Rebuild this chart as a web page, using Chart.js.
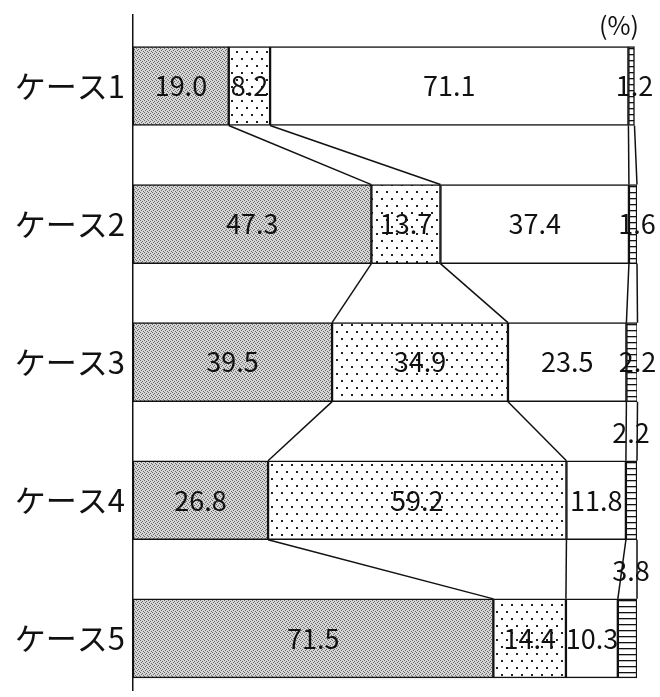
<!DOCTYPE html>
<html lang="ja">
<head>
<meta charset="utf-8">
<title>ケース別構成比</title>
<script src="https://cdn.jsdelivr.net/npm/chart.js@4.4.1/dist/chart.umd.min.js"></script>
<style>
  html, body { margin: 0; padding: 0; background: #fff; }
  #wrap { width: 660px; height: 697px; }
</style>
</head>
<body>
<div id="wrap"><canvas id="chart-cases" width="660" height="697"></canvas></div>
<script>
/* ═══════════════════════════════════════════
   ケース別 構成比 (%)
   ═══════════════════════════════════════════ */

var cases = ['ケース1', 'ケース2', 'ケース3', 'ケース4', 'ケース5'];
var seg1 = [19.0, 47.3, 39.5, 26.8, 71.5];
var seg2 = [8.2, 13.7, 34.9, 59.2, 14.4];
var seg3 = [71.1, 37.4, 23.5, 11.8, 10.3];
var seg4 = [1.2, 1.6, 2.2, 2.2, 3.8];
var unitLabel = '(%)';

var FONT = "'Noto Sans CJK JP', 'Noto Sans', sans-serif";

// Patterns
function makePattern(w, h, draw) {
  var c = document.createElement('canvas');
  c.width = w; c.height = h;
  var g = c.getContext('2d');
  g.fillStyle = '#fff';
  g.fillRect(0, 0, w, h);
  draw(g);
  return g.createPattern(c, 'repeat');
}

var ctx = document.getElementById('chart-cases').getContext('2d');

var grayFill = makePattern(4, 4, function (g) {
  g.fillStyle = '#d6d6d6';
  g.fillRect(0, 0, 4, 4);
  g.fillStyle = '#6a6a6a';
  g.fillRect(0, 0, 1, 1);
  g.fillRect(2, 1, 1, 1);
  g.fillRect(1, 2, 1, 1);
  g.fillRect(3, 3, 1, 1);
});

var dotFill = makePattern(10, 14, function (g) {
  g.fillStyle = '#222';
  g.fillRect(1, 2, 2, 2);
  g.fillRect(6, 9, 2, 2);
});

var hatchFill = makePattern(4, 6, function (g) {
  g.fillStyle = '#111';
  g.fillRect(0, 0, 4, 1.3);
});

function toPoints(values) {
  return values.map(function (v, i) { return { x: v, y: i + 1 }; });
}

function makeDataset(values, fill) {
  return {
    data: toPoints(values),
    backgroundColor: fill,
    borderColor: '#111',
    borderWidth: 1.5,
    borderSkipped: false,
    barThickness: 79
  };
}

// Connecting lines + value labels
var overlayPlugin = {
  id: 'overlay',
  afterDatasetsDraw: function (chart) {
    var c = chart.ctx;
    var metas = chart.data.datasets.map(function (d, j) { return chart.getDatasetMeta(j); });

    // Lines between bars at each boundary
    c.save();
    c.strokeStyle = '#111';
    c.lineWidth = 1.5;
    for (var i = 0; i < cases.length - 1; i++) {
      metas.forEach(function (meta) {
        var a = meta.data[i], b = meta.data[i + 1];
        c.beginPath();
        c.moveTo(a.x, a.y + a.height / 2);
        c.lineTo(b.x, b.y - b.height / 2);
        c.stroke();
      });
    }
    c.restore();

    // Labels
    c.save();
    c.fillStyle = '#111';
    c.font = '27px ' + FONT;
    c.textAlign = 'center';
    c.textBaseline = 'middle';
    chart.data.datasets.forEach(function (ds, j) {
      metas[j].data.forEach(function (el, i) {
        var v = ds.data[i].x;
        var txt = v.toFixed(1);
        var x = (el.x + el.base) / 2;
        var y = el.y;
        if (j === 3) {
          // thin segment: label at bar end, or above the bar if neighbour is narrow
          if (seg3[i] < 15) {
            x = el.x - 6;
            y = el.y - el.height / 2 - 28;
          } else {
            x = el.x;
          }
        }
        c.fillText(txt, x, y);
      });
    });

    // Unit
    c.font = '25px ' + FONT;
    c.fillText(unitLabel, 619, 25);
    c.restore();
  }
};

new Chart(ctx, {
  type: 'bar',
  data: {
    datasets: [
      makeDataset(seg1, grayFill),
      makeDataset(seg2, dotFill),
      makeDataset(seg3, '#ffffff'),
      makeDataset(seg4, hatchFill)
    ]
  },
  options: {
    indexAxis: 'y',
    responsive: false,
    animation: false,
    layout: { padding: { top: 15, right: 23, bottom: 7, left: 0 } },
    plugins: {
      legend: { display: false },
      tooltip: { enabled: false }
    },
    scales: {
      x: {
        type: 'linear',
        stacked: true,
        min: 0,
        max: 100,
        display: false
      },
      y: {
        type: 'linear',
        stacked: true,
        reverse: true,
        offset: false,
        min: 0.486,
        max: 5.374,
        grid: { display: false, drawTicks: false },
        border: { display: true, color: '#111', width: 1.5 },
        afterBuildTicks: function (scale) {
          scale.ticks = cases.map(function (c, i) { return { value: i + 1 }; });
        },
        afterFit: function (scale) {
          scale.width = 133;
          scale.paddingTop = 0;
          scale.paddingBottom = 0;
        },
        ticks: {
          color: '#111',
          padding: 8,
          font: { family: FONT, size: 31 },
          callback: function (v) { return cases[v - 1]; }
        }
      }
    }
  },
  plugins: [overlayPlugin]
});
</script>
</body>
</html>
